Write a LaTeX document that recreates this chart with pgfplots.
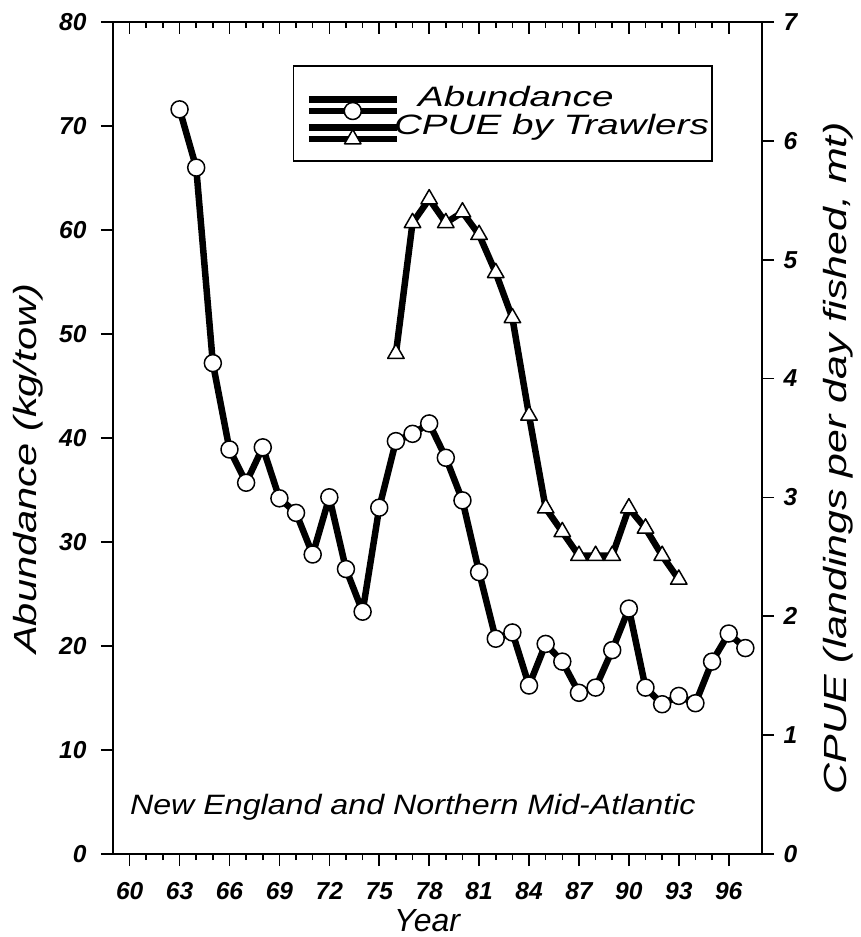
\documentclass[border=0pt]{standalone}
\usepackage{fontspec}
\setmainfont{Liberation Sans}
\usepackage{graphicx}
\usepackage{pgfplots}
\pgfplotsset{compat=1.18}
\pgfplotsset{
  common/.style={scale only axis, width=649pt, height=832pt, at={(0pt,0pt)}, anchor=south west,
    xmin=59, xmax=98, xtick={60,63,...,96}, minor x tick num=2,
    major tick length=12pt, minor tick length=6pt,
    every tick/.style={line width=1.6pt, black},
    axis line style={line width=1.3pt},
    /pgf/number format/assume math mode=true},
  abund/.style={black, line width=6.5pt, line join=round, mark=*, mark size=8.5pt,
    mark options={fill=white, draw=black, line width=1.5pt, solid}},
  cpue/.style={black, line width=6.5pt, line join=round, mark=triangle*, mark size=9.5pt,
    mark options={fill=white, draw=black, line width=1.5pt, solid}},
}
\begin{document}
\begin{tikzpicture}
\useasboundingbox (-113pt,-83pt) rectangle (747pt,854pt);
% left axis, bottom ticks
\begin{axis}[common, ymin=0, ymax=80, ytick={0,10,...,80},
  xtick pos=left, ytick pos=left, tick align=outside,
  xticklabel style={font=\fontsize{24.5}{24.5}\selectfont\bfseries\itshape, yshift=-13pt},
  yticklabel style={font=\fontsize{24.5}{24.5}\selectfont\bfseries\itshape},
  yticklabel={\pgfmathprintnumber{\tick}\kern11pt},
  xlabel={Year}, ylabel={Abundance (kg/tow)},
  xlabel style={at={(rel axis cs:0.484,-0.0935)}, anchor=base, font=\fontsize{32}{32}\selectfont\itshape},
  ylabel style={at={(rel axis cs:-0.131,0.463)}, anchor=center, font=\fontsize{32}{32}\selectfont\itshape, xscale=1.3},
]
\addplot[abund] coordinates {
(63,71.6) (64,66.0) (65,47.2) (66,38.9) (67,35.7) (68,39.1) (69,34.2) (70,32.8)
(71,28.8) (72,34.3) (73,27.4) (74,23.3) (75,33.3) (76,39.7) (77,40.4) (78,41.4)
(79,38.1) (80,34.0) (81,27.1) (82,20.7) (83,21.3) (84,16.2) (85,20.2) (86,18.5)
(87,15.5) (88,16.0) (89,19.6) (90,23.6) (91,16.0) (92,14.4) (93,15.2) (94,14.5)
(95,18.5) (96,21.2) (97,19.8)
};
\node[anchor=base west, font=\fontsize{28}{28}\selectfont\itshape, inner sep=0pt]
  at (rel axis cs:0.026,0.047) {\scalebox{1.15}[1]{New England and Northern Mid-Atlantic}};
\end{axis}
% top ticks (inside)
\begin{axis}[common, ymin=0, ymax=1, ytick=\empty, xtick pos=right, tick align=inside, xticklabels={}]
\end{axis}
% right axis
\begin{axis}[common, ymin=0, ymax=7, ytick={0,1,...,7}, xtick=\empty,
  ytick pos=right, yticklabel pos=right, tick align=outside,
  yticklabel style={font=\fontsize{24.5}{24.5}\selectfont\bfseries\itshape},
  yticklabel={\kern6pt\pgfmathprintnumber{\tick}},
  ylabel={CPUE (landings per day fished, mt)},
  ylabel style={at={(rel axis cs:1.117,0.476)}, anchor=center, font=\fontsize{32}{32}\selectfont\itshape, xscale=1.34},
  legend style={at={(rel axis cs:0.277,0.948)}, anchor=north west, draw=black, line width=1.5pt,
    font=\fontsize{28}{28}\selectfont\itshape, row sep=0pt, inner xsep=12pt, inner ysep=19.5pt,
    nodes={inner sep=1pt, text height=19.5pt, text depth=6.5pt}},
  legend cell align=left,
  legend image code/.code={\draw[#1, mark=none, overlay] (0pt,-11.5pt) -- (88pt,-11.5pt);
     \path[#1, overlay] plot coordinates {(44pt,-11.5pt)};
     \path (0pt,0pt) -- (88pt,0pt);},
]
\addlegendimage{abund}
\addlegendentry{\hspace{17pt}\scalebox{1.38}[1]{Abundance}\kern-10pt}
\addplot[cpue] coordinates {
(76,4.21) (77,5.31) (78,5.51) (79,5.31) (80,5.40) (81,5.21) (82,4.89) (83,4.51)
(84,3.69) (85,2.91) (86,2.71) (87,2.51) (88,2.51) (89,2.51) (90,2.91) (91,2.74)
(92,2.51) (93,2.31)
};
\addlegendentry{\kern-7pt\scalebox{1.38}[1]{CPUE by Trawlers}\kern-10pt}
\end{axis}
\end{tikzpicture}
\end{document}
